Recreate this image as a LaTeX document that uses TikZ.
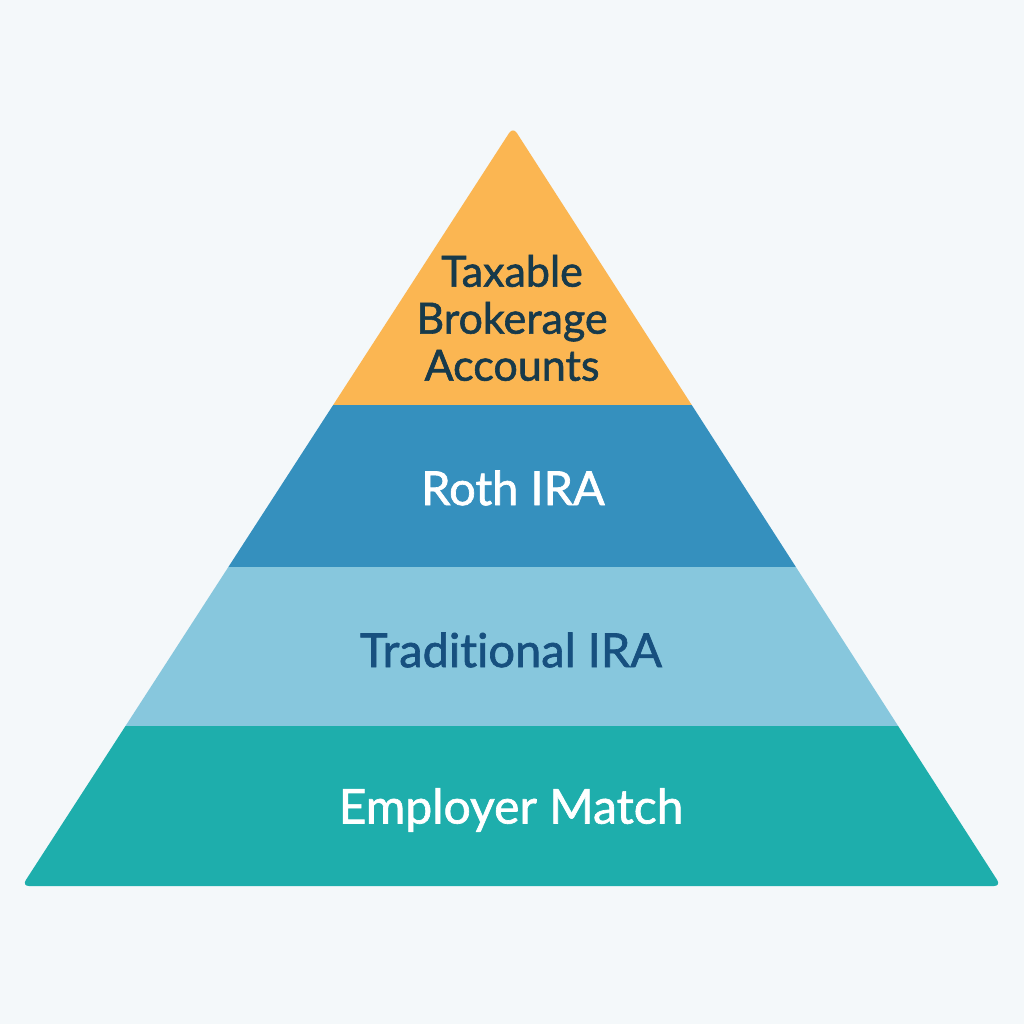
\documentclass[tikz,border=0pt]{standalone}
\usepackage{fontspec}
\setsansfont{Lato}[FakeBold=1.4, Ligatures=NoCommon]
\usetikzlibrary{calc}
\definecolor{bgcol}{HTML}{F4F8FA}
\definecolor{topcol}{HTML}{FBB652}
\definecolor{rothcol}{HTML}{3590BE}
\definecolor{tradcol}{HTML}{87C7DD}
\definecolor{matchcol}{HTML}{1EAEAC}
\definecolor{darktext}{HTML}{173A4B}
\definecolor{bluetext}{HTML}{17507F}

\begin{document}
\begin{tikzpicture}[x=1pt, y=-1pt,
  tier/.style={font=\sffamily\fontsize{47}{52}\selectfont, align=center, inner sep=0pt}]
  \fill[bgcol] (0,0) rectangle (1024,1024);
  \useasboundingbox (0,0) rectangle (1024,1024);
  % corners of the pyramid
  \coordinate (apex) at (513,127);
  \coordinate (bl) at (22,886);
  \coordinate (br) at (1001,886);
  % the four bands, cut to the triangle
  \begin{scope}
    \clip[rounded corners=7pt] (apex) -- (br) -- (bl) -- cycle;
    \fill[topcol]   (0,100) rectangle (1024,405);
    \fill[rothcol]  (0,405) rectangle (1024,567);
    \fill[tradcol]  (0,567) rectangle (1024,726);
    \fill[matchcol] (0,726) rectangle (1024,900);
  \end{scope}
  % labels
  \node[tier, text=darktext, font=\sffamily\fontsize{43}{47}\selectfont]
    (taxable) at (512,318) {Taxable\\Brokerage\\Accounts};
  \node[tier, text=white]    (roth)  at (513,488) {Roth IRA};
  \node[tier, text=bluetext] (trad)  at (511,650) {Traditional IRA};
  \node[tier, text=white, font=\sffamily\fontsize{48}{52}\selectfont]
    (match) at (511,810) {Employer Match};
\end{tikzpicture}
\end{document}
